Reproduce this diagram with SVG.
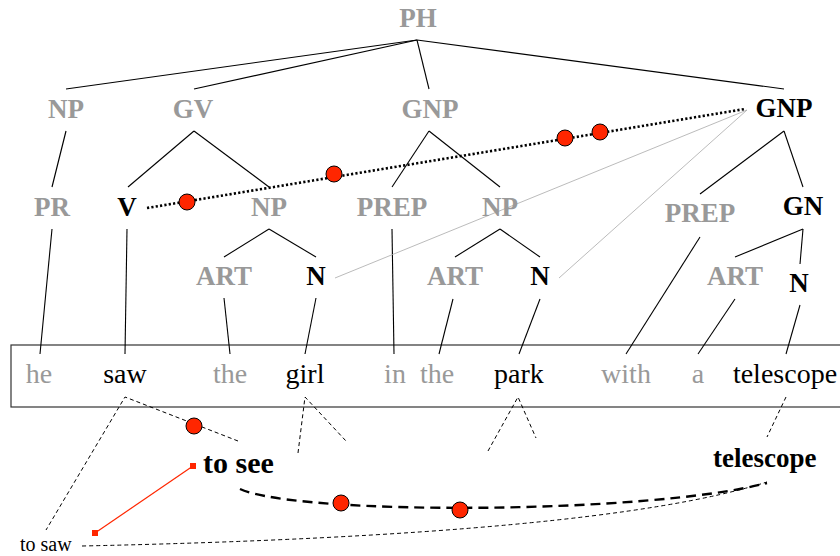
<svg xmlns="http://www.w3.org/2000/svg" width="840" height="556" viewBox="0 0 840 556">
<style>
.lbl{font-weight:bold;font-size:27px;text-anchor:middle}
.g{fill:#999999}
.k{fill:#000000}
.w{font-size:28px;text-anchor:middle}
.e{stroke:#000;stroke-width:1.1;fill:none}
.thin{stroke:#aaaaaa;stroke-width:0.8;fill:none}
.dot{stroke:#000;stroke-width:2.6;stroke-dasharray:2.2 2.2;fill:none}
.sd{stroke:#000;stroke-width:1;stroke-dasharray:4 3;fill:none}
.td{stroke:#000;stroke-width:2.4;stroke-dasharray:10 6;fill:none}
.rc{fill:#ff2600;stroke:#000;stroke-width:1}
.sq{fill:#ff2600}
</style>
<rect width="840" height="556" fill="#fff"/>
<rect id="sentence-box" x="11" y="345" width="840" height="62" fill="none" stroke="#333" stroke-width="1.2"/>

<g id="connectors">
<line class="e" x1="417" y1="40" x2="66" y2="89"/>
<line class="e" x1="417" y1="40" x2="194" y2="89"/>
<line class="e" x1="417" y1="40" x2="429" y2="89"/>
<line class="e" x1="417" y1="40" x2="784" y2="89"/>
<line class="e" x1="66" y1="131" x2="52" y2="187"/>
<line class="e" x1="194" y1="131" x2="128" y2="187"/>
<line class="e" x1="194" y1="131" x2="269" y2="187"/>
<line class="e" x1="269" y1="229" x2="224" y2="257"/>
<line class="e" x1="269" y1="229" x2="316" y2="257"/>
<line class="e" x1="429" y1="131" x2="392" y2="187"/>
<line class="e" x1="429" y1="131" x2="500" y2="187"/>
<line class="e" x1="500" y1="229" x2="455" y2="257"/>
<line class="e" x1="500" y1="229" x2="540" y2="257"/>
<line class="e" x1="784" y1="131" x2="700" y2="194"/>
<line class="e" x1="784" y1="131" x2="803" y2="187"/>
<line class="e" x1="803" y1="229" x2="735" y2="257"/>
<line class="e" x1="803" y1="229" x2="800" y2="264"/>
<line class="e" x1="52" y1="229" x2="40" y2="354"/>
<line class="e" x1="127" y1="229" x2="125" y2="354"/>
<line class="e" x1="224" y1="298" x2="230" y2="354"/>
<line class="e" x1="316" y1="298" x2="305" y2="354"/>
<line class="e" x1="392" y1="229" x2="394" y2="354"/>
<line class="e" x1="453" y1="299" x2="439" y2="354"/>
<line class="e" x1="540" y1="299" x2="519" y2="354"/>
<line class="e" x1="700" y1="237" x2="626" y2="354"/>
<line class="e" x1="735" y1="299" x2="698" y2="354"/>
<line class="e" x1="800" y1="305" x2="786" y2="354"/>
<line class="thin" x1="747" y1="110" x2="335" y2="278"/>
<line class="thin" x1="747" y1="110" x2="559" y2="278"/>
<line class="dot" x1="147" y1="208" x2="745" y2="109"/>
<polyline class="sd" points="238,441 125,397 46,530"/>
<polyline class="sd" points="298,453 305,397 346,441"/>
<polyline class="sd" points="488,451 518,397 536,438"/>
<line class="sd" x1="786" y1="397" x2="767" y2="437"/>
<path class="td" d="M240,489 C300,516 650,514 767,483"/>
<path class="sd" d="M82,546 Q600,535 767,482"/>
<line x1="95" y1="533" x2="193" y2="466" stroke="#ff2600" stroke-width="1.2"/>
<rect class="sq" x="92" y="530" width="6" height="6"/>
<rect class="sq" x="190" y="463" width="6" height="6"/>
<circle class="rc" cx="187" cy="202" r="8"/>
<circle class="rc" cx="334" cy="174" r="8"/>
<circle class="rc" cx="565" cy="138" r="8"/>
<circle class="rc" cx="600" cy="132" r="8"/>
<circle class="rc" cx="194" cy="426" r="8"/>
<circle class="rc" cx="341" cy="503" r="8"/>
<circle class="rc" cx="460" cy="510" r="8"/>
</g>

<g id="n-PH"><text class="lbl g" font-family="Liberation Serif" x="418" y="27">PH</text></g>
<g id="n-NP1"><text class="lbl g" font-family="Liberation Serif" x="66" y="118">NP</text></g>
<g id="n-GV"><text class="lbl g" font-family="Liberation Serif" x="193" y="118">GV</text></g>
<g id="n-GNP1"><text class="lbl g" font-family="Liberation Serif" x="430" y="118">GNP</text></g>
<g id="n-GNP2"><text class="lbl k" font-family="Liberation Serif" x="784" y="117">GNP</text></g>
<g id="n-PR"><text class="lbl g" font-family="Liberation Serif" x="52" y="216">PR</text></g>
<g id="n-V"><text class="lbl k" font-family="Liberation Serif" x="127" y="216">V</text></g>
<g id="n-NP2"><text class="lbl g" font-family="Liberation Serif" x="269" y="216">NP</text></g>
<g id="n-PREP1"><text class="lbl g" font-family="Liberation Serif" x="392" y="216">PREP</text></g>
<g id="n-NP3"><text class="lbl g" font-family="Liberation Serif" x="500" y="216">NP</text></g>
<g id="n-PREP2"><text class="lbl g" font-family="Liberation Serif" x="700" y="222">PREP</text></g>
<g id="n-GN"><text class="lbl k" font-family="Liberation Serif" x="803" y="215">GN</text></g>
<g id="n-ART1"><text class="lbl g" font-family="Liberation Serif" x="224" y="285">ART</text></g>
<g id="n-N1"><text class="lbl k" font-family="Liberation Serif" x="316" y="285">N</text></g>
<g id="n-ART2"><text class="lbl g" font-family="Liberation Serif" x="455" y="285">ART</text></g>
<g id="n-N2"><text class="lbl k" font-family="Liberation Serif" x="540" y="285">N</text></g>
<g id="n-ART3"><text class="lbl g" font-family="Liberation Serif" x="735" y="285">ART</text></g>
<g id="n-N3"><text class="lbl k" font-family="Liberation Serif" x="799" y="292">N</text></g>

<g id="w-he"><text class="w g" font-family="Liberation Serif" x="39" y="383">he</text></g>
<g id="w-saw"><text class="w k" font-family="Liberation Serif" x="125" y="383">saw</text></g>
<g id="w-the1"><text class="w g" font-family="Liberation Serif" x="230" y="383">the</text></g>
<g id="w-girl"><text class="w k" font-family="Liberation Serif" x="305" y="383">girl</text></g>
<g id="w-in"><text class="w g" font-family="Liberation Serif" x="395" y="383">in</text></g>
<g id="w-the2"><text class="w g" font-family="Liberation Serif" x="437" y="383">the</text></g>
<g id="w-park"><text class="w k" font-family="Liberation Serif" x="519" y="383">park</text></g>
<g id="w-with"><text class="w g" font-family="Liberation Serif" x="626" y="383">with</text></g>
<g id="w-a"><text class="w g" font-family="Liberation Serif" x="698" y="383">a</text></g>
<g id="w-telescope"><text class="w k" font-family="Liberation Serif" x="785" y="383">telescope</text></g>

<g id="t-tosee"><text x="203" y="473" font-family="Liberation Serif" font-weight="bold" font-size="30" fill="#000">to see</text></g>
<g id="t-telescope"><text x="713" y="467" font-family="Liberation Serif" font-weight="bold" font-size="27" fill="#000">telescope</text></g>
<g id="t-tosaw"><text x="20" y="551" font-family="Liberation Serif" font-size="20" fill="#000">to saw</text></g>
</svg>
